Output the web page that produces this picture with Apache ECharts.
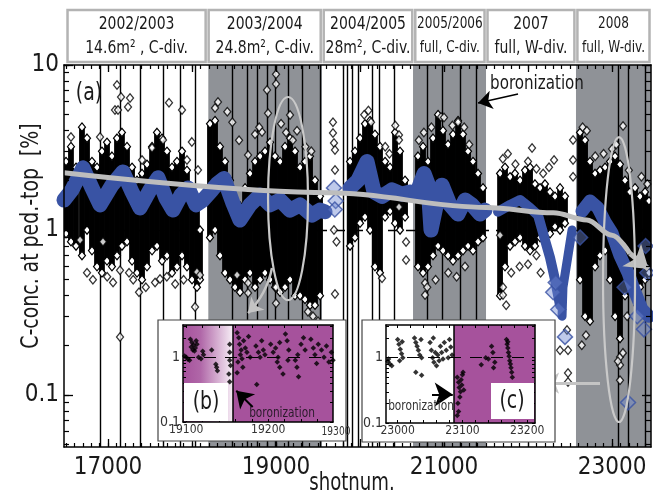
<!DOCTYPE html>
<html><head><meta charset="utf-8">
<script src="https://cdn.jsdelivr.net/npm/echarts@6/dist/echarts.min.js"></script>
<style>html,body{margin:0;padding:0;background:#fff}#c{width:653px;height:497px}</style>
</head><body><div id="c"></div>
<script>
const FONT = "'Liberation Sans Narrow','DejaVu Sans Condensed','Arial Narrow',sans-serif";

// ---------- data ----------
const campaignYears = ['2002/2003','2003/2004','2004/2005','2005/2006','2007','2008'];
const campaignDesc  = ['14.6m\u00b2 , C-div.','24.8m\u00b2, C-div.','28m\u00b2, C-div.','full, C-div.','full, W-div.','full, W-div.'];
const campaignEdges = [16500,18180,19550,20640,21500,22570,23464];
const shadedRanges  = [[18194,19547],[20631,21500],[22571,23464]];
const vLines = [16905,17143,17381,17655,17857,18036,18476,18655,18774,18893,18988,19143,19310,19524,
  19797,19845,19905,19976,20143,20226,20405,20798,20976,21190,21381,23071,23190,23393];
const xLabelVals = [17000,19000,21000,23000];
const yLabelVals = [0.1,1,10];

// dense black clusters: [shotnum, low, high]
const blackStreaks = [
 [16500,0.95,2.6],[16559,0.85,3.2],[16619,0.8,2.4],[16690,0.7,4.2],[16750,1.0,3.6],[16809,0.75,2.6],[16869,0.6,2.4],
 [16928,0.55,3.0],[16988,0.65,3.4],[17047,0.6,2.8],[17107,0.7,3.6],[17166,0.8,3.9],[17226,0.85,3.2],[17286,0.65,2.4],
 [17345,0.55,2.0],[17405,0.5,2.2],[17464,0.6,2.5],[17524,0.75,3.2],[17583,0.8,3.9],[17643,0.65,3.6],[17702,0.7,3.0],
 [17762,0.55,2.4],[17821,0.6,2.6],[17881,0.7,3.0],[17940,0.6,2.3],[18000,0.5,1.8],[18059,0.45,1.4],[18095,0.5,1.0],
 [18214,0.9,4.4],[18274,1.0,4.6],[18333,0.7,3.2],[18393,0.55,2.6],[18452,0.5,2.0],[18512,0.45,1.5],[18571,0.42,1.4],
 [18631,0.5,1.8],[18690,0.55,2.2],[18750,0.45,2.6],[18810,0.5,2.8],[18869,0.55,3.0],[18929,0.5,3.4],[18988,0.45,2.8],
 [19048,0.42,2.6],[19107,0.45,3.2],[19167,0.5,3.6],[19226,0.4,3.0],[19286,0.4,2.4],[19345,0.38,2.6],[19405,0.35,2.8],
 [19464,0.35,2.0],[19524,0.4,1.6],
 [19881,0.8,2.6],[19940,0.9,3.0],[20000,1.1,3.6],[20059,1.2,4.4],[20119,1.0,4.6],[20178,0.6,3.8],[20238,0.55,3.2],
 [20298,1.2,2.6],[20357,1.3,2.4],[20417,1.1,3.9],[20476,1.0,3.0],[20536,1.2,2.0],
 [20690,0.6,2.8],[20750,0.55,3.2],[20809,0.6,2.6],[20869,0.7,3.6],[20929,0.8,5.0],[20988,0.75,4.0],[21048,0.7,3.3],
 [21107,0.65,3.8],[21167,0.7,4.6],[21226,0.75,3.8],[21286,0.8,3.0],[21345,0.75,2.6],[21405,0.85,2.2],[21464,0.9,1.8],
 [21667,0.4,2.2],[21726,0.6,2.4],[21786,0.8,2.1],[21845,0.85,2.2],[21905,0.9,2.0],[21964,0.8,2.3],[22024,0.75,2.4],
 [22083,0.8,1.9],[22143,0.9,1.8],[22202,1.0,1.9],[22262,0.95,1.7],[22321,1.05,1.6],[22381,1.0,1.8],[22440,1.1,1.6],
 [22619,0.5,3.9],[22679,0.3,3.5],[22738,0.28,2.6],[22798,0.6,2.2],[22857,0.7,2.3],[22917,0.75,2.4],[22976,0.5,2.6],
 [23036,0.3,2.8],[23095,0.22,2.5],[23155,0.4,2.0],[23214,0.5,1.7],[23274,0.5,1.8],[23333,0.45,1.6],[23393,0.5,1.7],[23440,0.55,1.5]
];
// isolated black points: [shotnum, C-conc]
const blackPts = [
 [17107,7.57],[17155,6.4],[17083,5.34],[17119,5.34],[17262,6.3],[17238,5.56],[17726,5.9],[17881,5.34],[17524,3.14],
 [16905,3.66],[16559,3.66],[18309,5.97],[18274,5.49],[19000,8.8],[19000,7.68],[18893,7.06],[18905,5.1],[19167,4.97],
 [18833,3.92],[18667,2.85],[17998,3.42],[17143,0.57],[17369,0.42],[17143,0.225],[17619,0.505],[18059,0.556],[18095,0.534],
 [18036,0.342],[18536,0.534],[18667,0.477],[18667,0.415],[19000,0.45],[19000,0.36],[19678,4.5],[19678,3.87],[19690,3.37],
 [19702,3.05],[19702,2.31],[20131,4.5],[20464,3.76],[20464,3.51],[20464,1.58],[20464,1.38],[20964,4.84],[21167,4.5],
 [22048,3.14],[22310,2.66],[22536,3.51],[22536,2.66],[22536,2.1],[23131,4.27],[21667,0.93],[20548,0.846],[20548,0.658],
 [20262,0.51],[19702,0.41],[20774,0.477],[20774,0.404],[21702,0.45],[21702,0.404],[22464,0.248],[22381,0.187],[22476,0.187],
 [22476,0.136],[22476,0.12],[23095,0.17],[23095,0.152],[23095,0.123],[17940,2.66],[17405,2.66],[17655,3.51],[18071,2.31],
 [16667,0.87],[16940,0.85],[16750,0.55],[16820,0.5],[16990,0.52],[17060,0.48],[17250,0.55],[17300,0.5],[17450,0.45],
 [17560,0.48],[17700,0.52],[17800,0.47],[17900,0.5],[18420,5.2],[18480,4.5],[18560,3.5],[18750,3.8],[18800,4.2],
 [19060,4.4],[19120,3.9],[19200,3.5],[19250,4.0],[19350,3.2],[19420,3.0],[19440,0.3],[19500,0.28],[19380,0.32],
 [19690,1.0],[19720,0.85],[20050,5.0],[20100,5.3],[20300,3.2],[20350,2.9],[20420,4.3],[20700,3.5],[20760,3.9],
 [20850,4.2],[21000,4.8],[21100,4.3],[21240,4.2],[21300,3.3],[20800,0.45],[20900,0.5],[21050,0.55],[21150,0.52],
 [21250,0.6],[21700,2.7],[21760,2.9],[21850,2.5],[22000,2.6],[22100,2.35],[22180,2.2],[22250,2.4],[21740,0.35],
 [21800,0.55],[21900,0.6],[22000,0.62],[22100,0.7],[22150,0.55],[22650,4.2],[22700,4.0],[22800,2.8],[22900,2.9],
 [23000,3.1],[23050,3.3],[23200,2.3],[23350,2.1],[23420,1.9],[22640,0.2],[22690,0.23],[23070,0.16],[23130,0.18],
 [23180,0.3],[23300,0.35]
];
// blue (model/fit) band, in segments
const blueSegA = [[16476,1.52],[16571,1.75],[16702,2.38],[16809,1.80],[16905,1.42],[17047,1.87],[17178,2.25],[17286,1.70],
 [17381,1.36],[17500,1.75],[17595,2.07],[17690,1.56],[17774,1.32],[17869,1.63],[17952,1.80],[18047,1.42],[18131,1.52],
 [18238,1.75],[18297,1.9],[18381,2.05],[18488,1.45],[18571,1.15],[18690,1.42],[18810,1.63],[18929,1.42],[19048,1.52],
 [19167,1.32],[19286,1.42],[19428,1.23],[19524,1.32],[19583,1.29]];
const blueSegB = [[19881,1.8],[19976,2.0],[20083,2.6],[20167,1.7],[20262,1.6],[20381,1.75],[20500,1.65],[20595,1.7]];
const blueSegC = [[20667,1.63],[20762,2.2],[20809,1.9],[20845,1.0],[20905,1.4],[20976,1.87],[21071,1.42],[21167,1.25],
 [21250,1.52],[21333,1.42],[21429,1.25],[21488,1.32]];
const blueSegD = [[21643,1.29],[21786,1.42],[21905,1.52],[22024,1.36],[22119,1.23],[22202,0.87],[22262,0.68],[22321,0.5],[22381,0.35]];
const blueSegD2 = [[22524,1.0],[22476,0.7],[22416,0.45],[22405,0.3]];
const blueSegE = [[22643,1.3],[22738,1.5],[22833,1.36],[22917,1.12],[23000,0.96],[23095,0.7],[23190,0.55],[23274,0.42],[23357,0.33],[23440,0.3]];
const blueDiamonds = [[19690,1.8],[19710,1.5],[19700,1.33],[22440,0.225],[22300,0.42],[22360,0.33],[22330,0.48],[23190,0.09],
 [23150,0.45],[23300,0.3],[23380,0.25],[23420,0.55],[23400,0.8],[22620,0.9]];
// grey trend arrow
const trendPts = [[16476,2.22],[19643,1.68],[21500,1.37],[22300,1.27],[22700,1.15],[23000,0.93],[23214,0.72]];
const trendHead = [[23214,0.72],[23435,0.58]];
// highlight ellipses [left, right, top, bottom]
const ellipses = [[18905,19381,6.4,0.376],[22893,23274,3.66,0.0686]];
const greyArrows = [[[18952,0.588],[18667,0.314]],[[22857,0.118],[22179,0.118]]];
const boronArrowMain = [[21881,6.67],[21405,5.89]];

// insets
const insetBRange = [19096,19279], boronB = 19157;
const insetCRange = [22982,23212], boronC = 23087;
const insetXLabelsB = [19100,19200], insetXLabelsC = [23000,23100,23200];
const insetBPts = [[19105,1.9],[19107,1.7],[19109,1.55],[19111,1.4],[19113,1.6],[19108,1.3],[19110,1.25],[19106,1.45],[19112,1.8],
 [19100,1.0],[19102,0.93],[19098,1.05],[19104,0.9],[19115,1.0],[19118,0.95],[19120,1.24],[19121,1.1],[19136,0.78],[19137,0.7],
 [19138,0.62],[19131,1.3],[19153,1.6],[19153,1.2],[19153,0.9],[19154,0.75],[19152,0.55],[19153,0.42],
 [19162,2.4],[19164,2.0],[19165,1.6],[19167,1.3],[19166,1.1],[19168,0.95],[19170,1.8],[19172,1.4],[19174,1.2],[19176,2.1],
 [19178,1.0],[19163,0.85],[19169,0.7],[19162,0.58],[19186,0.38],[19185,1.5],[19188,1.2],[19190,1.0],[19192,1.8],[19194,1.3],
 [19196,1.1],[19203,1.6],[19206,1.2],[19209,1.4],[19212,1.0],[19214,1.7],[19211,0.85],[19214,0.7],[19218,0.55],[19221,2.3],
 [19223,1.8],[19225,1.3],[19224,0.9],[19233,0.9],[19235,0.7],[19237,0.5],[19236,1.1],[19240,1.6],[19243,2.0],[19245,1.3],
 [19252,1.9],[19255,1.4],[19257,1.1],[19259,0.8],[19261,1.6],[19265,1.3],[19268,1.0],[19271,1.5],[19274,0.85],[19277,1.2],[19279,0.9]];
const insetCPts = [[22985,0.87],[22988,0.8],[22991,0.75],[22986,0.95],[23000,1.9],[23002,1.6],[23004,1.35],[23006,1.15],[23008,1.0],
 [23003,0.9],[23007,1.75],[23026,2.0],[23028,1.7],[23030,1.5],[23032,1.3],[23034,1.1],[23036,1.9],[23037,1.0],[23028,0.6],[23037,0.54],
 [23050,1.7],[23052,1.3],[23054,1.0],[23056,0.85],[23058,1.2],[23060,0.75],[23062,1.1],[23064,0.9],[23066,1.5],[23068,1.2],
 [23070,0.95],[23072,1.7],[23075,1.3],[23078,1.0],[23080,1.9],[23082,1.45],[23084,1.1],[23055,2.0],
 [23092,0.5],[23094,0.42],[23095,0.35],[23097,0.3],[23096,0.25],[23093,0.2],[23098,0.46],[23100,0.55],[23099,0.38],[23102,0.32],
 [23101,0.6],[23094,0.15],[23092,0.13],[23129,0.78],[23136,1.0],[23145,1.5],[23147,1.2],[23150,0.85],[23148,0.7],[23140,0.95],
 [23168,1.9],[23169,1.6],[23170,1.4],[23171,1.2],[23172,1.05],[23173,0.9],[23174,0.8],[23175,0.7],[23176,0.6],[23177,0.5],[23170,1.75]];
const insetArrowB = [[19181,0.171],[19161,0.305]];
const insetArrowC = [[23053,0.274],[23085,0.274]];

// ---------- helpers ----------
const L = v => Math.log10(v);
const P = d => [d[0], L(d[1])];
const yFmt = v => { const r = Math.pow(10, v); return r < 1 ? r.toFixed(1) : String(Math.round(r)); };
const xFmt = v => String(Math.round(v));
function range(a, b, s){ const o=[]; for(let v=a; v<=b+1e-9; v+=s) o.push(v); return o; }
function logMinor(lo, hi){ const o=[]; for(let d=-3; d<=2; d++) for(let k=1;k<=9;k++){ const v=k*Math.pow(10,d); if(v>=lo*0.999 && v<=hi*1.001) o.push(L(v)); } return o; }

const X0 = 16476, X1 = 23464, Y0 = 0.0484, Y1 = 10;
const MAG = '#a6529c', BAND = '#8f9297';
const xMajor = range(17000, 23000, 1000), xMinor = range(16500, 23400, 100);
const yMajor = yLabelVals.map(L), yMinor = logMinor(Y0, Y1);

const axLine = {show:true, onZero:false, lineStyle:{color:'#000', width:1.5}};
const noLine = {show:false, onZero:false};

function xAx(grid, pos, min, max, opt){
  return Object.assign({type:'value', gridIndex:grid, position:pos, min, max, z:10,
    splitLine:{show:false}, axisLine:noLine, axisLabel:{show:false}, axisTick:{show:false}}, opt);
}
const yAx = xAx;

const xAxis = [
  xAx(0,'bottom',X0,X1,{axisLine:axLine, axisTick:{show:true,inside:true,length:8,customValues:xMajor,lineStyle:{color:'#000',width:1.3}},
    axisLabel:{show:true, customValues:xLabelVals, formatter:xFmt, fontSize:24, fontFamily:FONT, color:'#1a1a1a', margin:9}}),
  xAx(0,'bottom',X0,X1,{axisTick:{show:true,inside:true,length:4,customValues:xMinor,lineStyle:{color:'#000',width:1.2}}}),
  xAx(0,'top',X0,X1,{axisLine:axLine, axisTick:{show:true,inside:true,length:7,customValues:xMajor,lineStyle:{color:'#000',width:1.3}}}),
  xAx(0,'top',X0,X1,{axisTick:{show:true,inside:true,length:4,customValues:xMinor,lineStyle:{color:'#000',width:1.2}}}),
  xAx(1,'bottom',insetBRange[0],insetBRange[1],{z:40,axisLine:axLine, axisTick:{show:true,inside:true,length:3,customValues:range(19100,19260,20),lineStyle:{color:'#000'}},
    axisLabel:{show:true, customValues:insetXLabelsB, formatter:xFmt, fontSize:12, fontFamily:FONT, color:'#333', margin:2}}),
  xAx(1,'top',insetBRange[0],insetBRange[1],{z:40,axisLine:axLine, axisTick:{show:true,inside:true,length:3,customValues:range(19100,19260,20),lineStyle:{color:'#000'}}}),
  xAx(2,'bottom',insetCRange[0],insetCRange[1],{z:40,axisLine:axLine, axisTick:{show:true,inside:true,length:3,customValues:range(23000,23200,20),lineStyle:{color:'#000'}},
    axisLabel:{show:true, customValues:insetXLabelsC, formatter:xFmt, fontSize:12, fontFamily:FONT, color:'#333', margin:2}}),
  xAx(2,'top',insetCRange[0],insetCRange[1],{z:40,axisLine:axLine, axisTick:{show:true,inside:true,length:3,customValues:range(23000,23200,20),lineStyle:{color:'#000'}}})
];
const insetYMinor = logMinor(0.1, 3.16);
const yAxis = [
  yAx(0,'left',L(Y0),L(Y1),{axisLine:axLine, axisTick:{show:true,inside:true,length:9,customValues:yMajor,lineStyle:{color:'#000',width:1.3}},
    axisLabel:{show:true, customValues:yMajor, formatter:yFmt, fontSize:24, fontFamily:FONT, color:'#1a1a1a', margin:5}}),
  yAx(0,'left',L(Y0),L(Y1),{axisTick:{show:true,inside:true,length:5,customValues:yMinor,lineStyle:{color:'#000',width:1.2}}}),
  yAx(0,'right',L(Y0),L(Y1),{axisLine:axLine, axisTick:{show:true,inside:true,length:9,customValues:yMajor,lineStyle:{color:'#000',width:1.3}}}),
  yAx(0,'right',L(Y0),L(Y1),{axisTick:{show:true,inside:true,length:5,customValues:yMinor,lineStyle:{color:'#000',width:1.2}}}),
  yAx(1,'left',-1,0.5,{z:40,axisLine:axLine, axisTick:{show:true,inside:true,length:3,customValues:insetYMinor,lineStyle:{color:'#000'}},
    axisLabel:{show:true, customValues:[-1,0], formatter:yFmt, fontSize:14, fontFamily:FONT, color:'#333', margin:3}}),
  yAx(1,'right',-1,0.5,{z:40,axisLine:axLine, axisTick:{show:true,inside:true,length:3,customValues:insetYMinor,lineStyle:{color:'#000'}}}),
  yAx(2,'left',-1,0.5,{z:40,axisLine:axLine, axisTick:{show:true,inside:true,length:3,customValues:insetYMinor,lineStyle:{color:'#000'}},
    axisLabel:{show:true, customValues:[-1,0], formatter:yFmt, fontSize:14, fontFamily:FONT, color:'#333', margin:3}}),
  yAx(2,'right',-1,0.5,{z:40,axisLine:axLine, axisTick:{show:true,inside:true,length:3,customValues:insetYMinor,lineStyle:{color:'#000'}}})
];

function diamondEl(cx, cy){
  const w=3.5, h=4.2;
  return {type:'polygon', shape:{points:[[cx,cy-h],[cx+w,cy],[cx,cy+h],[cx-w,cy]]}, style:{fill:'#fff', stroke:'#000', lineWidth:1.2}};
}
function renderStreak(params, api){
  const x=api.value(0), lo=api.value(1), hi=api.value(2);
  const a=api.coord([x,hi]), b=api.coord([x,lo]);
  const w=5.8;
  return {type:'group', children:[
    {type:'rect', shape:{x:a[0]-w/2, y:a[1], width:w, height:b[1]-a[1]}, style:{fill:'#000'}},
    diamondEl(a[0],a[1]), diamondEl(b[0],b[1])
  ]};
}
function renderEllipse(params, api){
  const l=api.coord([api.value(0), api.value(2)]), r=api.coord([api.value(1), api.value(3)]);
  return {type:'ellipse', shape:{cx:(l[0]+r[0])/2, cy:(l[1]+r[1])/2, rx:Math.abs(r[0]-l[0])/2, ry:Math.abs(r[1]-l[1])/2},
    style:{fill:null, stroke:'#c9c9c9', lineWidth:2.2}};
}
const blueLine = (seg, w) => ({type:'line', xAxisIndex:0, yAxisIndex:0, z:4, data:seg.map(P), symbol:'none', silent:true,
  lineStyle:{color:'#3953a4', width:w||15, join:'round', cap:'round'}});
const arrowLines = (data, color, width, size, z, xi, curv) => ({type:'lines', coordinateSystem:'cartesian2d', xAxisIndex:xi, yAxisIndex:xi, z,
  symbol:['none','arrow'], symbolSize:size, silent:true,
  lineStyle:{color, width, opacity:1, curveness:curv||0}, data:data.map(c=>({coords:c.map(P)}))});

const series = [
  {type:'line', xAxisIndex:0, yAxisIndex:0, data:[], z:1, silent:true,
    markArea:{z:1, silent:true, itemStyle:{color:BAND}, data:shadedRanges.map(r=>[{xAxis:r[0]},{xAxis:r[1]}])}},
  {type:'line', xAxisIndex:0, yAxisIndex:0, data:[], z:2, silent:true,
    markLine:{z:2, silent:true, symbol:['none','none'], label:{show:false}, animation:false,
      lineStyle:{color:'#000', width:1.4, type:'solid'}, data:vLines.map(v=>({xAxis:v}))}},
  {type:'line', xAxisIndex:0, yAxisIndex:0, data:[], z:3, silent:true,
    markLine:{z:3, silent:true, symbol:['none','none'], label:{show:false}, animation:false,
      lineStyle:{color:'#000', width:1.3, type:[11,7]}, data:[{yAxis:0}]}},
  {type:'custom', xAxisIndex:0, yAxisIndex:0, z:3, silent:true, clip:true, renderItem:renderStreak,
    encode:{x:0, y:[1,2]}, data:blackStreaks.map(d=>[d[0], L(d[1]), L(d[2])])},
  {type:'scatter', xAxisIndex:0, yAxisIndex:0, z:3, silent:true, symbol:'diamond', symbolSize:[7,8.5],
    itemStyle:{color:'#fff', borderColor:'#000', borderWidth:1.3}, data:blackPts.map(P)},
  blueLine(blueSegA), blueLine(blueSegB), blueLine(blueSegC), blueLine(blueSegD, 10), blueLine(blueSegD2, 9), blueLine(blueSegE, 13),
  {type:'scatter', xAxisIndex:0, yAxisIndex:0, z:4, silent:true, symbol:'diamond', symbolSize:15,
    itemStyle:{color:'rgba(110,135,210,0.55)', borderColor:'#3953a4', borderWidth:1.5}, data:blueDiamonds.map(P)},
  {type:'line', xAxisIndex:0, yAxisIndex:0, z:6, silent:true, symbol:'none', smooth:0.35, smoothMonotone:'x',
    lineStyle:{color:'#bdbdbd', width:5}, data:trendPts.map(P)},
  arrowLines([trendHead], '#bdbdbd', 5, 22, 6, 0),
  arrowLines([greyArrows[0]], '#c4c4c4', 2.5, 14, 6, 0, 0.15),
  arrowLines([greyArrows[1]], '#c4c4c4', 3, 16, 6, 0),
  arrowLines([boronArrowMain], '#000', 1.5, 14, 6, 0),
  {type:'custom', xAxisIndex:0, yAxisIndex:0, z:6, silent:true, clip:false, renderItem:renderEllipse,
    encode:{x:[0,1], y:[2,3]}, data:ellipses.map(e=>[e[0],e[1],L(e[2]),L(e[3])])},
  // inset (b)
  {type:'scatter', xAxisIndex:4, yAxisIndex:4, z:23, silent:true, symbol:'diamond', symbolSize:5.5,
    itemStyle:{color:'#000'}, data:insetBPts.map(P),
    markArea:{z:21, silent:true, data:[
      [{xAxis:insetBRange[0], itemStyle:{color:new echarts.graphic.LinearGradient(0,0,1,0,[{offset:0,color:MAG},{offset:0.35,color:'#b067a8'},{offset:1,color:'#f7eef6'}])}},{xAxis:boronB}],
      [{xAxis:boronB, itemStyle:{color:MAG}},{xAxis:insetBRange[1]}]]},
    markLine:{z:22, silent:true, symbol:['none','none'], label:{show:false}, animation:false,
      data:[{xAxis:boronB, lineStyle:{color:'#000', width:1.5, type:'solid'}},{yAxis:0, lineStyle:{color:'#000', width:1.2, type:[12,9]}}]}},
  // inset (c)
  {type:'scatter', xAxisIndex:6, yAxisIndex:6, z:23, silent:true, symbol:'diamond', symbolSize:5.5,
    itemStyle:{color:'#000'}, data:insetCPts.map(P),
    markArea:{z:21, silent:true, data:[[{xAxis:boronC, itemStyle:{color:MAG}},{xAxis:insetCRange[1]}]]},
    markLine:{z:22, silent:true, symbol:['none','none'], label:{show:false}, animation:false,
      data:[{xAxis:boronC, lineStyle:{color:'#000', width:1.5, type:'solid'}},{yAxis:0, lineStyle:{color:'#000', width:1.2, type:[12,9]}}]}},
  arrowLines([insetArrowB], '#000', 2, 16, 24, 4),
  arrowLines([insetArrowC], '#000', 2, 18, 24, 6)
];

const chart = echarts.init(document.getElementById('c'), null, {renderer:'canvas'});
chart.setOption({
  animation:false,
  grid:[
    {left:64, right:2, top:65, bottom:50, z:10},
    {left:183, top:325, width:150, height:97, z:40},
    {left:386, top:325, width:149, height:98, z:40}
  ],
  xAxis, yAxis, series
});

// annotations (text & boxes); SX condenses the text horizontally
const SX = 0.84;
const px = v => chart.convertToPixel({xAxisIndex:0}, v);
const T = (text, x, y, fs, extra, z) => ({type:'text', z:z||52, x, y, scaleX:SX,
  style:Object.assign({text, fontSize:fs, fontFamily:FONT, fill:'#1a1a1a', align:'center', verticalAlign:'middle', textAlign:'center', textVerticalAlign:'middle'}, extra||{})});
const els = [];
for (let i=0;i<campaignYears.length;i++){
  const a = px(campaignEdges[i])+1.5, b = px(campaignEdges[i+1])-1.5;
  const fs = (b-a) < 80 ? 16 : 18.5;
  els.push({type:'rect', z:50, shape:{x:a, y:10, width:b-a, height:52}, style:{fill:'#fff', stroke:'#b3b3b3', lineWidth:2.5}});
  els.push(T(campaignYears[i], (a+b)/2, 24, fs, null, 51));
  els.push(T(campaignDesc[i], (a+b)/2, 48, fs, null, 51));
}
const yTitle = T('C-conc. at ped.-top  [%]', 31, 236, 25);
yTitle.rotation = Math.PI/2;
els.push(yTitle);
els.push(T('shotnum.', 352, 484, 24));
els.push(T('(a)', 89, 93, 25));
els.push(T('boronization', 537, 84, 20));
// inset frames
els.push({type:'rect', z:20, shape:{x:158, y:320, width:188, height:121}, style:{fill:'#fff', stroke:'#444', lineWidth:1.2}});
els.push({type:'rect', z:20, shape:{x:362, y:320, width:193, height:122}, style:{fill:'#fff', stroke:'#444', lineWidth:1.2}});
els.push({type:'rect', z:45, shape:{x:184, y:383, width:44, height:38}, style:{fill:'#fff'}});
els.push({type:'rect', z:45, shape:{x:491, y:383, width:43, height:36}, style:{fill:'#fff'}});
els.push(T('(b)', 206, 402, 25, null, 46));
els.push(T('(c)', 512, 401, 25, null, 46));
els.push(T('boronization', 282, 413, 14, {fill:'#2b1b2b'}, 46));
els.push(T('boronization', 421, 406, 14, {fill:'#333'}, 46));
els.push(T('19300', 336, 432, 12, {fill:'#333'}, 46));
chart.setOption({graphic:{elements:els}});
</script>
</body></html>
